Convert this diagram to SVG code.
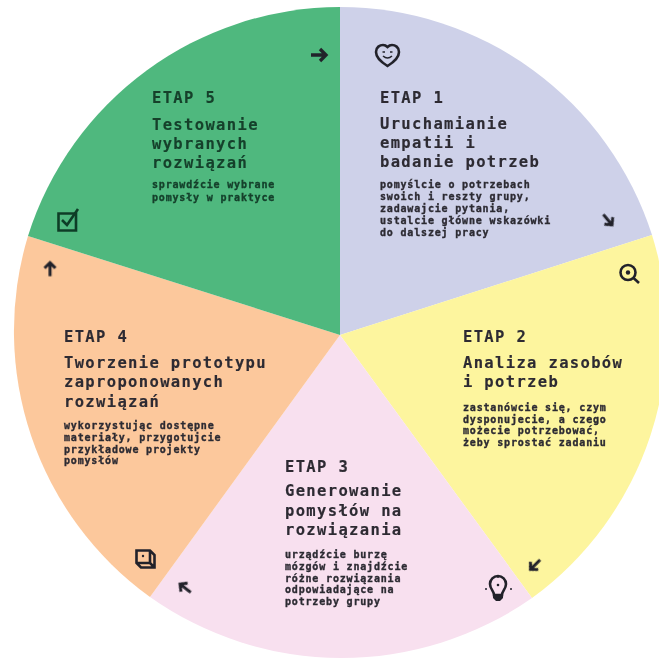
<svg xmlns="http://www.w3.org/2000/svg" width="659" height="659" viewBox="0 0 659 659">
<style>
text{font-family:"DejaVu Sans Mono","Liberation Mono",monospace;font-weight:700;fill:#2d2b33;stroke:#2d2b33;stroke-width:.15}
.e{font-size:15.500px;letter-spacing:1.35px}
.t{font-size:15.500px;letter-spacing:1.35px}
.s{font-size:10px;letter-spacing:.82px;stroke-width:.35}
.g text{fill:#143f2a;stroke:#143f2a}
.i{fill:none;stroke:#23232b;stroke-width:2.600;stroke-linecap:butt;stroke-linejoin:miter}
.thin{stroke-width:1.500}
.a{stroke-width:3.300}
.k{stroke:#0f3d28}
</style>
<defs>
<g id="arrow"><path class="i a" d="M-8 0H7M1-6L7 0L1 6"/></g>
<filter id="soft" x="-5%" y="-5%" width="110%" height="110%"><feGaussianBlur stdDeviation=".35"/></filter>
</defs>
<rect width="659" height="659" fill="#fff"/>
<g id="etap1">
<path d="M340 335V7A328 328 0 0 1 652 235Z" fill="#ced1e9"/>
<g filter="url(#soft)">
<path class="i" d="M387.500 66C381 62 376 58 376 52C376 47 380 45 383 45C385 45 386.500 46 387.500 47C388.500 46 390 45 392 45C395 45 399 47 399 52C399 58 394 62 387.500 66Z"/>
<path class="i thin" d="M383 56Q387.500 60 392 56M382.500 52h2.500M390 52h2.500"/>
<text class="e" x="380" y="102.500">ETAP 1</text>
<text class="t" x="380" y="129">Uruchamianie</text>
<text class="t" x="380" y="148">empatii i</text>
<text class="t" x="380" y="167">badanie potrzeb</text>
<text class="s" x="380" y="188">pomyślcie o potrzebach</text>
<text class="s" x="380" y="200">swoich i reszty grupy,</text>
<text class="s" x="380" y="212">zadawajcie pytania,</text>
<text class="s" x="380" y="224">ustalcie główne wskazówki</text>
<text class="s" x="380" y="236">do dalszej pracy</text>
</g>
</g>
<g id="etap2">
<path d="M340 335L652 235A328 328 0 0 1 532 598Z" fill="#fdf59e"/>
<g filter="url(#soft)">
<circle class="i" cx="628" cy="272.500" r="7.500"/>
<circle cx="628" cy="272.500" r="2.200" fill="#23232b"/>
<path class="i" d="M633.500 278L639 283"/>
<text class="e" x="463" y="342">ETAP 2</text>
<text class="t" x="463" y="368">Analiza zasobów</text>
<text class="t" x="463" y="387">i potrzeb</text>
<text class="s" x="463" y="411">zastanówcie się, czym</text>
<text class="s" x="463" y="422.500">dysponujecie, a czego</text>
<text class="s" x="463" y="434">możecie potrzebować,</text>
<text class="s" x="463" y="446">żeby sprostać zadaniu</text>
</g>
</g>
<g id="etap3">
<path d="M340 335L532 598A332 332 0 0 1 150 597Z" fill="#f8e0ef"/>
<g filter="url(#soft)">
<path class="i" d="M494 595C494 591 490 589 490 584A8 8 0 0 1 506 584C506 589 502 591 502 595Z"/>
<path d="M493 595h10v3l-3 3h-4l-3-3Z" fill="#23232b"/>
<circle cx="498" cy="585" r="1.300" fill="#23232b"/>
<path class="i thin" d="M498 578v-2M487 589h-2M512 589h-2"/>
<text class="e" x="285" y="472">ETAP 3</text>
<text class="t" x="285" y="496">Generowanie</text>
<text class="t" x="285" y="515.500">pomysłów na</text>
<text class="t" x="285" y="534.500">rozwiązania</text>
<text class="s" x="285" y="558">urządźcie burzę</text>
<text class="s" x="285" y="570">mózgów i znajdźcie</text>
<text class="s" x="285" y="581.500">różne rozwiązania</text>
<text class="s" x="285" y="593">odpowiadające na</text>
<text class="s" x="285" y="605">potrzeby grupy</text>
</g>
</g>
<g id="etap4">
<path d="M340 335L150 597A328 328 0 0 1 28 236Z" fill="#fcc89c"/>
<g filter="url(#soft)">
<path class="i" d="M136.500 550.500H150L154.500 555V567.500H141L136.500 563ZM136.500 563H150V550.500M150 563L154.500 567.500"/>
<circle cx="143" cy="556" r="1.200" fill="#23232b"/>
<text class="e" x="64" y="342">ETAP 4</text>
<text class="t" x="64" y="368">Tworzenie prototypu</text>
<text class="t" x="64" y="387">zaproponowanych</text>
<text class="t" x="64" y="406.500">rozwiązań</text>
<text class="s" x="64" y="429">wykorzystując dostępne</text>
<text class="s" x="64" y="441">materiały, przygotujcie</text>
<text class="s" x="64" y="453">przykładowe projekty</text>
<text class="s" x="64" y="464">pomysłów</text>
</g>
</g>
<g id="etap5" class="g">
<path d="M340 335L28 236A328 328 0 0 1 340 7Z" fill="#4fb87e"/>
<g filter="url(#soft)">
<path class="i k" d="M58.500 213.500H76V230.500H58.500Z"/>
<path class="i k" d="M62 220L67 225L78 209"/>
<text class="e" x="152" y="103">ETAP 5</text>
<text class="t" x="152" y="130">Testowanie</text>
<text class="t" x="152" y="149">wybranych</text>
<text class="t" x="152" y="168">rozwiązań</text>
<text class="s" x="152" y="188">sprawdźcie wybrane</text>
<text class="s" x="152" y="201">pomysły w praktyce</text>
</g>
</g>
<g id="connectors" filter="url(#soft)">
<use id="arrow-5-1" href="#arrow" transform="translate(319 55)"/>
<use id="arrow-1-2" href="#arrow" transform="translate(608 220) rotate(50) scale(.9)"/>
<use id="arrow-2-3" href="#arrow" transform="translate(535 565) rotate(135) scale(.9)"/>
<use id="arrow-3-4" href="#arrow" transform="translate(185 588) rotate(218) scale(.9)"/>
<use id="arrow-4-5" href="#arrow" transform="translate(50 269) rotate(-90) scale(.9)"/>
</g>
</svg>
